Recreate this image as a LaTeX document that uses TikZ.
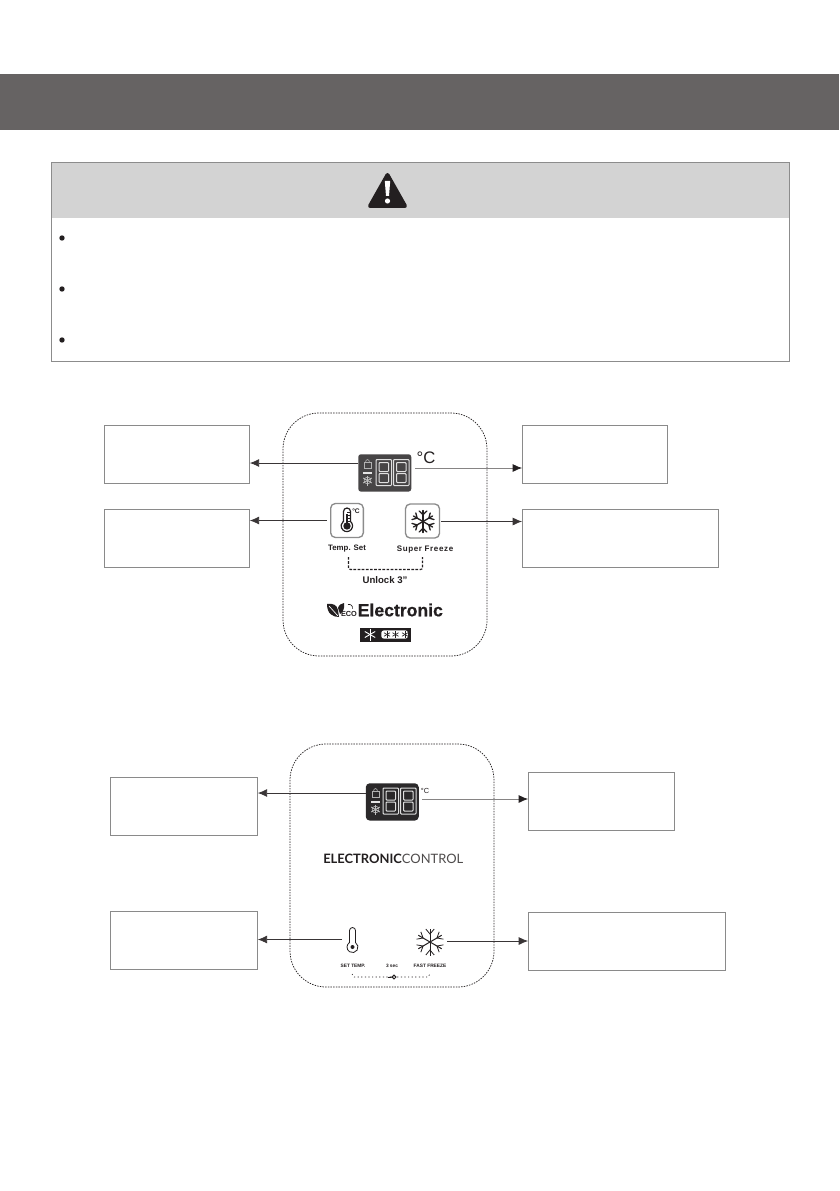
\documentclass[tikz,border=0pt]{standalone}
\usepackage{fontspec}
\setmainfont{Liberation Sans}
\newfontfamily\latofont{Lato}
\usetikzlibrary{arrows.meta}
\definecolor{band}{HTML}{666363}
\definecolor{cauthead}{HTML}{D3D3D3}
\definecolor{cautline}{HTML}{8C8C8C}
\definecolor{boxline}{HTML}{8A8A8A}
\definecolor{ink}{HTML}{231F20}
\definecolor{dispA}{HTML}{474546}
\definecolor{dispB}{HTML}{2B292A}
\tikzset{
  x=0.75pt,y=-0.75pt,
  callout/.style={draw=boxline,line width=0.6pt,fill=white,minimum height=43.5pt,inner sep=0pt,anchor=north west},
  panel/.style={draw=ink,line width=0.55pt,dash pattern=on 1.1pt off 0.9pt,rounded corners=27pt},
  arr/.style={draw=ink!90,line width=0.6pt,-{Latex[length=7pt,width=6pt]}},
  arrgrey/.style={draw=ink!55,line width=0.6pt,-{Latex[length=7pt,width=6pt,color=ink]}},
  seg/.style={draw=white!88!black,line width=0.75pt},
  bullet/.style={circle,fill=ink,draw=none,minimum size=4pt,inner sep=0pt},
  lab/.style={inner sep=0pt,text=ink},
  btn/.style={draw=black!45,line width=1pt,fill=white,rounded corners=3.5pt,inner sep=0pt,minimum width=24.5pt,minimum height=25.5pt},
}
% digit at (#1,#2) width #3 height #4
\newcommand{\segdigit}[4]{%
  \draw[seg,rounded corners=0.6pt] (#1,#2) rectangle ++(#3,#4);
  \draw[seg,rounded corners=0.6pt] (#1+3,#2+3) rectangle ++(#3-6,#4/2-4);
  \draw[seg,rounded corners=0.6pt] (#1+3,#2+#4/2+1) rectangle ++(#3-6,#4/2-4);
}
% icons of the display, origin is display top-left
\newcommand{\dispicons}[2]{%
  \begin{scope}[shift={(#1,#2)}]
    \draw[white!70!black,line width=0.45pt] (6,8.5) rectangle ++(7,6);
    \draw[white!70!black,line width=0.45pt] (7.5,8.5) arc[start angle=180,end angle=360,x radius=2,y radius=3];
    \fill[white!90!black] (5,18) rectangle ++(9,1.8);
    \foreach \a in {0,60,120} {\draw[white!75!black,line width=0.7pt,rotate around={\a:(9.5,26.5)}] (9.5,21.5) -- (9.5,31.5);}
    \draw[white!75!black,line width=0.4pt] (9.5,26.5) circle[radius=3.4];
  \end{scope}
}
\newcommand{\flakebold}[2]{%
  \foreach \a in {0,60,...,300} {
    \begin{scope}[shift={(#1,#2)},rotate=\a]
      \draw[ink,line width=1pt,line cap=round] (0,0) -- (0,-11);
      \draw[ink,line width=1pt,line cap=round] (-3.8,-10.5) -- (0,-6.8) -- (3.8,-10.5);
    \end{scope}
  }
}
\newcommand{\flakethin}[2]{%
  \foreach \a in {0,60,...,300} {
    \begin{scope}[shift={(#1,#2)},rotate=\a]
      \draw[ink,line width=0.75pt] (0,0) -- (0,-13.5);
      \draw[ink,line width=0.6pt] (-4.2,-13) -- (0,-8) -- (4.2,-13);
    \end{scope}
  }
}
\begin{document}
\begin{tikzpicture}
\useasboundingbox (0,0) rectangle (839,1191);
\fill[white] (0,0) rectangle (839,1191);
% title band
\fill[band] (0,74) rectangle (839,130);
% caution box
\fill[cauthead] (51,162) rectangle (789,218);
\draw[cautline,line width=0.7pt] (51,162) rectangle (789,361);
% warning triangle
\fill[ink,line join=round,draw=ink,line width=3pt] (387.5,175) -- (370,206) -- (405,206) -- cycle;
\fill[white] (384.8,181) -- (390.2,181) -- (389,196) -- (386,196) -- cycle;
\fill[white] (387.5,201) circle[radius=2.6];
\node[bullet] (b1) at (62,238) {};
\node[bullet] (b2) at (62,289) {};
\node[bullet] (b3) at (62,340) {};

% ---------- first panel
\draw[panel] (283,413) rectangle (487,656);
\node[callout,minimum width=108.75pt] (p1tl) at (104,425) {};
\node[callout,minimum width=108.75pt] (p1bl) at (104,509) {};
\node[callout,minimum width=108.75pt] (p1tr) at (522,425) {};
\node[callout,minimum width=147pt] (p1br) at (522,509) {};
% display
\node[draw=none,fill=dispA,rounded corners=2pt,inner sep=0pt,minimum width=39.75pt,minimum height=28pt,anchor=north west] (p1disp) at (358,454) {};
\dispicons{358}{454}
\segdigit{376}{459.5}{15.5}{26}
\segdigit{393.5}{459.5}{15.5}{26}
\node[lab,font=\fontsize{12.5}{12.5}\selectfont] (p1deg) at (426,458) {°C};
\coordinate (p1dl) at (358,463);
\coordinate (p1dr) at (415,468);
\draw[arr] (p1dl) -- (p1dl -| p1tl.east);
\draw[arrgrey] (p1dr) -- (p1dr -| p1tr.west);
% buttons
\node[btn,minimum width=24.5pt] (p1b1) at (347,520.5) {};
\node[btn,minimum width=25.5pt] (p1b2) at (422.5,521) {};
\coordinate (p1b1a) at (326.5,520.5);
\coordinate (p1b2a) at (441,521.5);
\draw[arr] (p1b1a) -- (p1b1a -| p1bl.east);
\draw[arr] (p1b2a) -- (p1b2a -| p1br.west);
% thermometer in button
\draw[ink,line width=0.9pt,fill=white] (343.5,521.5) -- (343.5,511.5) arc[start angle=180,end angle=360,radius=3.5] -- (350.5,521.5) arc[start angle=-50,end angle=230,radius=5.7] -- cycle;
\fill[ink] (347,526) circle[radius=3.7];
\draw[ink,line width=1.1pt] (347,514) -- (347,526);
\foreach \yy in {512,515,518,521} {\draw[ink,line width=0.3pt] (347,\yy) -- (349.5,\yy);}
\node[lab,font=\bfseries\fontsize{5}{5}\selectfont] (p1tdeg) at (356,511) {°C};
\flakebold{423}{521.5}
\node[lab,font=\bfseries\fontsize{5.9}{5.9}\selectfont] (p1ts) at (347,549) {Temp. Set};
\node[lab,font=\bfseries\fontsize{6}{6}\selectfont,text width=60pt,align=center] (p1sf) at (425,549.5) {\addfontfeature{LetterSpace=8}Super Freeze};
\coordinate (p1ua) at (348.5,557);
\coordinate (p1ub) at (422.5,557);
\draw[ink,line width=0.9pt,dash pattern=on 2pt off 1.1pt,rounded corners=1.5pt] (p1ua) -- ++(0,12.5) -| (p1ub);
\node[lab,font=\bfseries\fontsize{7.2}{7.2}\selectfont] (p1un) at (385,580) {Unlock 3"};
\node[lab,font=\bfseries\fontsize{13.2}{13.2}\selectfont,anchor=west] (p1el) at (357.5,610) {\addfontfeature{FakeBold=0.6}Electronic};
% eco logo
\fill[ink] (327,604) .. controls (333,603) and (337,605) .. (338,610) -- (339,617) .. controls (333,617) and (327,614) .. (327,604) -- cycle;
\fill[ink] (338,608) .. controls (339,604) and (342,604) .. (344,603) .. controls (345,608) and (343,612) .. (340,614) -- cycle;
\draw[white,line width=0.5pt] (329,606) -- (338,616);
\node[lab,font=\bfseries\fontsize{5.5}{5.5}\selectfont] (p1eco) at (349,613.5) {ECO};
\draw[ink,line width=0.5pt] (348,604.5) arc[start angle=-110,end angle=20,radius=3.4];
% star rating bar
\node[fill=ink,inner sep=0pt,minimum width=38.25pt,minimum height=11pt,anchor=north west] (p1st) at (360,627.5) {};
\foreach \a in {0,60,120} {\draw[white,line width=0.7pt,rotate around={\a:(370,634.5)}] (370,628.5) -- (370,640.5);}
\node[fill=white,rounded corners=2pt,inner sep=0pt,minimum width=20pt,minimum height=6.2pt,anchor=west] (p1sw) at (381,634.5) {};
\foreach \xx in {387,395.5,405} {\foreach \a in {0,60,120} {\draw[ink,line width=0.5pt,rotate around={\a:(\xx,634.5)}] (\xx,631) -- (\xx,638);}}

% ---------- second panel
\draw[panel] (290,744) rectangle (494,987);
\node[callout,minimum width=110.25pt] (p2tl) at (110,777) {};
\node[callout,minimum width=110.25pt] (p2bl) at (110,911) {};
\node[callout,minimum width=109.5pt] (p2tr) at (528,772) {};
\node[callout,minimum width=147.75pt] (p2br) at (528,912) {};
\node[draw=none,fill=dispB,rounded corners=3pt,inner sep=0pt,minimum width=39.75pt,minimum height=28pt,anchor=north west] (p2disp) at (365.5,783) {};
\dispicons{366}{783}
\segdigit{383}{788}{15.5}{26}
\segdigit{400.5}{788}{15.5}{26}
\node[lab,font=\fontsize{5.5}{5.5}\selectfont] (p2deg) at (425,791) {°C};
\coordinate (p2dl) at (365.5,793);
\coordinate (p2dr) at (422,799);
\draw[arr] (p2dl) -- (p2dl -| p2tl.east);
\draw[arrgrey] (p2dr) -- (p2dr -| p2tr.west);
\node[lab,font=\fontsize{9.7}{9.7}\selectfont\latofont,anchor=west] (p2ec) at (323,858.5) {\textbf{ELECTRONIC}\textcolor{ink!80}{CONTROL}};
% thermometer
\draw[ink,line width=0.6pt] (349.5,942.5) -- (349.5,930.5) arc[start angle=180,end angle=360,radius=3] -- (355.5,942.5) arc[start angle=-57,end angle=237,radius=5.5];
\fill[ink] (352.5,947) circle[radius=2];
\coordinate (p2ta) at (342,939.5);
\coordinate (p2fa) at (447,941);
\draw[arr] (p2ta) -- (p2ta -| p2bl.east);
\draw[arr] (p2fa) -- (p2fa -| p2br.west);
\flakethin{430}{942}
\node[lab,font=\bfseries\fontsize{3.6}{3.6}\selectfont] (p2st) at (353,966) {SET TEMP.};
\node[lab,font=\bfseries\fontsize{3.6}{3.6}\selectfont] (p2sec) at (392,966) {3 sec};
\node[lab,font=\bfseries\fontsize{3.6}{3.6}\selectfont] (p2ff) at (430,966) {FAST FREEZE};
\coordinate (p2ua) at (352,974);
\coordinate (p2ub) at (430,974);
\coordinate (p2uk) at (394,977);
\draw[ink,line width=0.45pt,dash pattern=on 0.9pt off 1.8pt] (p2ua) -- (354,977) -- (p2uk) -- (428,977) -- (p2ub);
\draw[ink,line width=0.7pt] (388,977.5) -- (p2uk);
\draw[ink,line width=0.7pt,fill=white] (p2uk) circle[radius=1.9];
\end{tikzpicture}
\end{document}
